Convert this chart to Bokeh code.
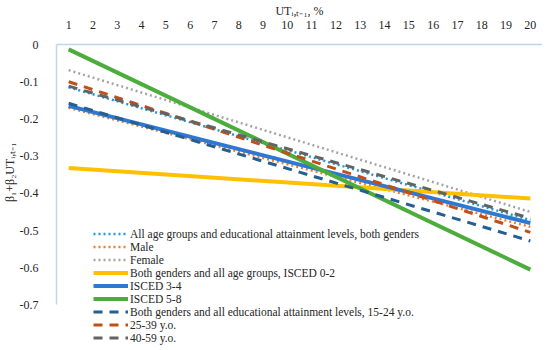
from bokeh.plotting import figure
from bokeh.models import (Range1d, FixedTicker, CustomJSTickFormatter, Legend,
                          LegendItem, LinearAxis, Title)
from bokeh.embed import file_html
from bokeh.resources import INLINE

# ---- data (values at UT = 1 and UT = 20) ----
x_ut = [1, 20]
all_groups = [-0.115, -0.472]
male = [-0.170, -0.490]
female = [-0.069, -0.450]
isced_02 = [-0.332, -0.414]
isced_34 = [-0.165, -0.480]
isced_58 = [-0.013, -0.605]
age_15_24 = [-0.158, -0.528]
age_25_39 = [-0.100, -0.505]
age_40_59 = [-0.112, -0.467]

x_ticks = list(range(1, 21))
y_ticks = [0, -0.1, -0.2, -0.3, -0.4, -0.5, -0.6, -0.7]

series = [
    ("All age groups and educational attainment levels, both genders", all_groups, "#1E9BE0", 2.5, "2 3"),
    ("Male", male, "#ED7D31", 2.5, "2 3"),
    ("Female", female, "#A5A5A5", 2.5, "2 3"),
    ("Both genders and all age groups, ISCED 0-2", isced_02, "#FFC000", 4.0, "solid"),
    ("ISCED 3-4", isced_34, "#2E78D2", 4.0, "solid"),
    ("ISCED 5-8", isced_58, "#4CAD3C", 4.0, "solid"),
    ("Both genders and all educational attainment levels, 15-24 y.o.", age_15_24, "#255E91", 3.0, "9 7"),
    ("25-39 y.o.", age_25_39, "#C0501A", 3.0, "9 7"),
    ("40-59 y.o.", age_40_59, "#636363", 3.0, "9 7"),
]

SERIF = "Liberation Serif"
TXT = "#262626"
AXC = "#BDD7EE"

p = figure(width=542, height=348, output_backend="svg", toolbar_location=None,
           x_range=Range1d(0.5, 20.5), y_range=Range1d(-0.817, 0),
           x_axis_location=None, y_axis_location=None,
           min_border_left=48, min_border_right=0, min_border_top=40,
           min_border_bottom=0)
p.outline_line_color = None
p.xgrid.visible = False
p.ygrid.visible = False
p.background_fill_color = "white"

xa = LinearAxis(ticker=FixedTicker(ticks=x_ticks), axis_label="UTᵢ,ₜ₋₁, %")
xa.axis_line_color = AXC
xa.axis_line_width = 1.5
xa.major_tick_line_color = None
xa.minor_tick_line_color = None
xa.major_label_standoff = 10
xa.major_label_text_font = SERIF
xa.major_label_text_font_size = "12px"
xa.major_label_text_color = TXT
xa.axis_label_standoff = 0
xa.axis_label_text_font = SERIF
xa.axis_label_text_font_size = "12px"
xa.axis_label_text_font_style = "normal"
xa.axis_label_text_color = TXT
p.add_layout(xa, "above")

ya = LinearAxis(ticker=FixedTicker(ticks=y_ticks), bounds=(-0.7, 0))
ya.formatter = CustomJSTickFormatter(code="return tick == 0 ? '0' : tick.toFixed(1)")
ya.axis_line_color = AXC
ya.axis_line_width = 1.5
ya.major_tick_line_color = None
ya.minor_tick_line_color = None
ya.major_label_standoff = 12
ya.major_label_text_font = SERIF
ya.major_label_text_font_size = "12px"
ya.major_label_text_color = TXT
p.add_layout(ya, "left")

ytitle = Title(text="β₁+β₂UTᵢ,ₜ₋₁", align="right", offset=98, standoff=0)
ytitle.text_font = SERIF
ytitle.text_font_size = "12px"
ytitle.text_font_style = "normal"
ytitle.text_color = TXT
p.add_layout(ytitle, "left")

items = []
for name, vals, color, w, dash in series:
    r = p.line(x_ut, vals, line_color=color, line_width=w, line_dash=dash)
    items.append(LegendItem(label=name, renderers=[r]))

legend = Legend(items=items, location=(37, 4))
legend.background_fill_alpha = 0
legend.border_line_alpha = 0
legend.padding = 0
legend.margin = 0
legend.spacing = 0
legend.glyph_width = 35
legend.glyph_height = 13
legend.label_height = 13
legend.label_standoff = 2
legend.label_text_font = SERIF
legend.label_text_font_size = "11.5px"
legend.label_text_line_height = 1.0
legend.label_text_color = TXT
legend.label_text_baseline = "middle"
p.add_layout(legend, "center")

open("out.html", "w").write(file_html(p, INLINE))
